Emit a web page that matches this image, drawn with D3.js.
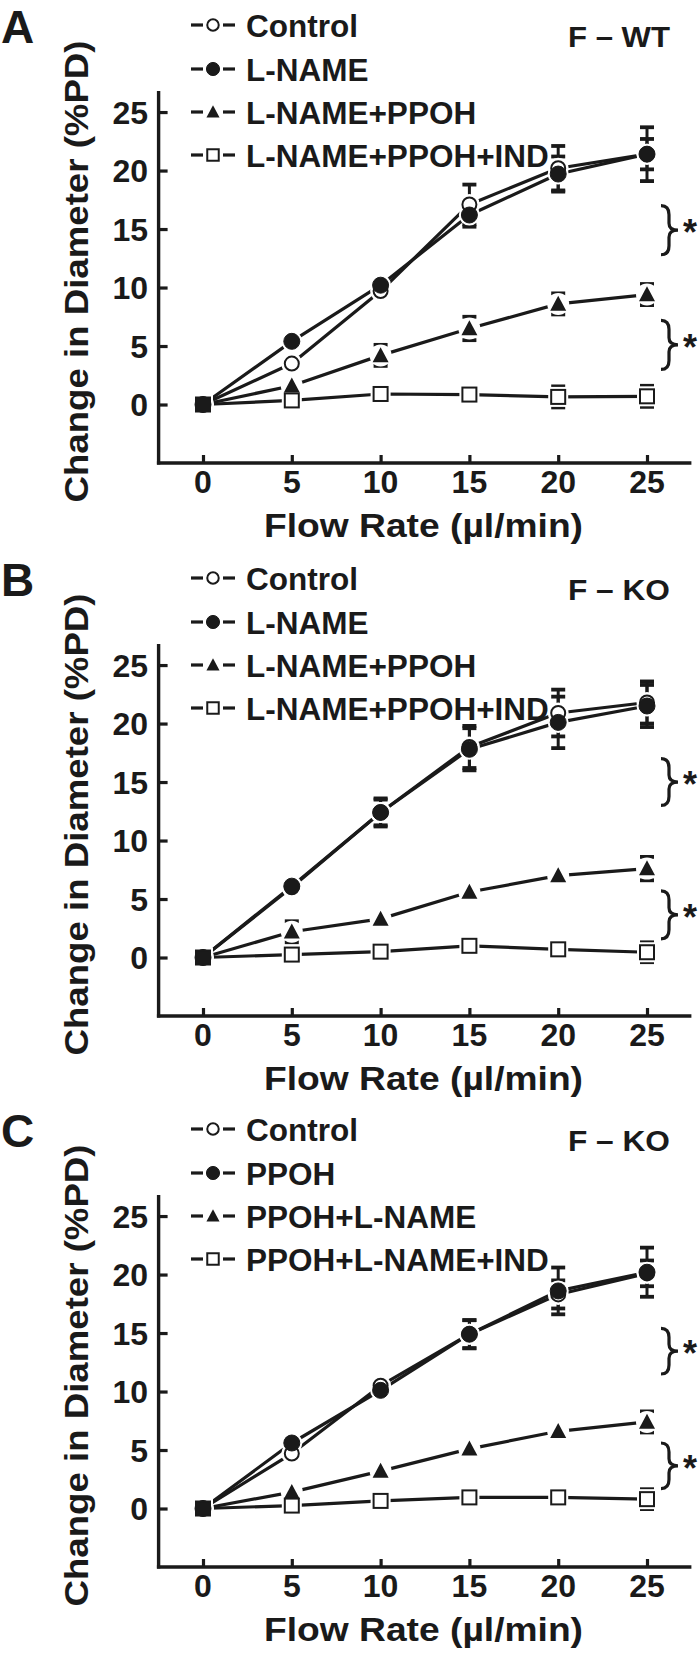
<!DOCTYPE html>
<html>
<head>
<meta charset="utf-8">
<script src="https://cdn.jsdelivr.net/npm/d3@7"></script>
<style>
html,body{margin:0;padding:0;background:#fff;}
svg{display:block;}
text{font-family:"Liberation Sans",Arial,Helvetica,sans-serif;font-weight:bold;fill:#1a1a1a;}
</style>
</head>
<body>
<svg id="chart" width="698" height="1657"></svg>
<script>
// ---------- DATA ----------
const flowRates = [0, 5, 10, 15, 20, 25];
const xTicks = [0, 5, 10, 15, 20, 25];
const yTicks = [0, 5, 10, 15, 20, 25];
const panelLabels = ["A", "B", "C"];
const panelTitles = ["F \u2013 WT", "F \u2013 KO", "F \u2013 KO"];
const legendAB = ["Control", "L-NAME", "L-NAME+PPOH", "L-NAME+PPOH+IND"];
const legendC = ["Control", "PPOH", "PPOH+L-NAME", "PPOH+L-NAME+IND"];
const xTitle = "Flow Rate (\u00b5l/min)";
const yTitle = "Change in Diameter (%PD)";

// Panel A (F-WT)
const A_control = [0, 3.5, 9.7, 17.1, 20.2, 21.4];
const A_lname   = [0, 5.4, 10.2, 16.2, 19.7, 21.4];
const A_lnPpoh  = [0, 1.6, 4.2, 6.5, 8.6, 9.4];
const A_lnPpohInd = [0, 0.35, 0.9, 0.85, 0.65, 0.7];
const A_controlErr = [0, 0, 0, 1.7, 1.9, 2.3];
const A_lnameErr   = [0, 0, 0, 1.0, 1.5, 1.3];
const A_lnPpohErr  = [0, 0, 0.9, 1.0, 0.9, 0.9];
const A_lnPpohIndErr = [0, 0, 0, 0, 0.9, 0.9];
const A_brackets = [[12.8, 17.0], [3.0, 7.2]];

// Panel B (F-KO)
const B_control = [0, 6.0, 12.4, 18.0, 20.9, 21.8];
const B_lname   = [0, 6.1, 12.4, 17.8, 20.1, 21.5];
const B_lnPpoh  = [0, 2.2, 3.3, 5.6, 7.0, 7.6];
const B_lnPpohInd = [0, 0.25, 0.5, 1.0, 0.7, 0.45];
const B_controlErr = [0, 0, 1.2, 1.8, 2.0, 1.8];
const B_lnameErr   = [0, 0, 1.1, 1.8, 2.2, 1.8];
const B_lnPpohErr  = [0, 0.9, 0, 0, 0, 1.0];
const B_lnPpohIndErr = [0, 0, 0, 0, 0, 0.85];
const B_brackets = [[13.0, 17.0], [1.6, 5.7]];

// Panel C (F-KO)
const C_control = [0, 4.7, 10.5, 14.9, 18.3, 20.1];
const C_ppoh    = [0, 5.6, 10.1, 14.9, 18.6, 20.2];
const C_ppohLn  = [0, 1.4, 3.2, 5.1, 6.6, 7.4];
const C_ppohLnInd = [0, 0.25, 0.65, 0.95, 0.95, 0.8];
const C_controlErr = [0, 0, 0, 1.2, 1.2, 1.1];
const C_ppohErr    = [0, 0, 0, 1.2, 2.0, 2.1];
const C_ppohLnErr  = [0, 0, 0, 0, 0, 0.9];
const C_ppohLnIndErr = [0, 0, 0, 0, 0, 0.85];
const C_brackets = [[11.5, 15.4], [1.7, 5.6]];

const markerTypes = ["openCircle", "filledCircle", "triangle", "openSquare"];

// ---------- BUILD ----------
const panels = [
  {label: panelLabels[0], title: panelTitles[0], legend: legendAB, dy: 0,
   values: [A_control, A_lname, A_lnPpoh, A_lnPpohInd],
   errs: [A_controlErr, A_lnameErr, A_lnPpohErr, A_lnPpohIndErr], brackets: A_brackets},
  {label: panelLabels[1], title: panelTitles[1], legend: legendAB, dy: 553,
   values: [B_control, B_lname, B_lnPpoh, B_lnPpohInd],
   errs: [B_controlErr, B_lnameErr, B_lnPpohErr, B_lnPpohIndErr], brackets: B_brackets},
  {label: panelLabels[2], title: panelTitles[2], legend: legendC, dy: 1104,
   values: [C_control, C_ppoh, C_ppohLn, C_ppohLnInd],
   errs: [C_controlErr, C_ppohErr, C_ppohLnErr, C_ppohLnIndErr], brackets: C_brackets}
];

const INK = "#1a1a1a";
const svg = d3.select("#chart");

const x = d3.scaleLinear().domain([-2.5, 27.5]).range([158.6, 691.4]);
const y = d3.scaleLinear().domain([-5, 26.8]).range([463, 91]);

function drawMarker(g, type, cx, cy, scale, isOrigin) {
  const s = scale;
  if (type === "openCircle") {
    g.append("circle").attr("cx", cx).attr("cy", cy).attr("r", 7 * s)
      .attr("fill", isOrigin ? INK : "#fff").attr("stroke", INK).attr("stroke-width", 2);
  } else if (type === "filledCircle") {
    g.append("circle").attr("cx", cx).attr("cy", cy).attr("r", 8 * s)
      .attr("fill", INK).attr("stroke", INK).attr("stroke-width", 1);
  } else if (type === "triangle") {
    const h = 15 * s, w = 16 * s;
    g.append("path")
      .attr("d", `M${cx},${cy - h * 0.55} L${cx + w / 2},${cy + h * 0.45} L${cx - w / 2},${cy + h * 0.45} Z`)
      .attr("fill", INK);
  } else {
    const a = 14 * s;
    g.append("rect").attr("x", cx - a / 2).attr("y", cy - a / 2).attr("width", a).attr("height", a)
      .attr("fill", isOrigin ? INK : "#fff").attr("stroke", INK).attr("stroke-width", 2);
  }
}
function drawHalo(g, type, cx, cy) {
  if (type === "openSquare") {
    g.append("rect").attr("x", cx - 10).attr("y", cy - 10).attr("width", 20).attr("height", 20).attr("fill", "#fff");
  } else if (type === "triangle") {
    g.append("circle").attr("cx", cx).attr("cy", cy).attr("r", 11).attr("fill", "#fff");
  } else {
    g.append("circle").attr("cx", cx).attr("cy", cy).attr("r", 10.5).attr("fill", "#fff");
  }
}

panels.forEach(p => {
  const g = svg.append("g").attr("transform", `translate(0,${p.dy})`);

  // Panel letter
  g.append("text").attr("x", 1).attr("y", 43).attr("font-size", 46).text(p.label);

  // Title right
  g.append("text").attr("x", 670).attr("y", 47).attr("text-anchor", "end")
    .attr("font-size", 29).attr("textLength", 102).attr("lengthAdjust", "spacingAndGlyphs").text(p.title);

  // Legend
  const legBase = [37, 81, 124, 167];
  p.legend.forEach((name, i) => {
    const cy = legBase[i] - 12;
    const lg = g.append("g");
    lg.append("line").attr("x1", 191).attr("x2", 203).attr("y1", cy).attr("y2", cy)
      .attr("stroke", INK).attr("stroke-width", 3.2);
    lg.append("line").attr("x1", 223).attr("x2", 235).attr("y1", cy).attr("y2", cy)
      .attr("stroke", INK).attr("stroke-width", 3.2);
    drawMarker(lg, markerTypes[i], 213, cy, 0.82, false);
    lg.append("text").attr("x", 246).attr("y", legBase[i]).attr("font-size", 31.5).text(name);
  });

  // Axes
  const yAxis = d3.axisRight(y).tickValues(yTicks).tickSize(9).tickFormat("");
  const yg = g.append("g").attr("transform", `translate(${x(-2.5)},0)`).call(yAxis);
  const xAxis = d3.axisTop(x).tickValues(xTicks).tickSize(8).tickFormat("");
  const xg = g.append("g").attr("transform", `translate(0,${y(-5)})`).call(xAxis);
  [yg, xg].forEach(ax => {
    ax.select(".domain").remove();
    ax.selectAll(".tick line").attr("stroke", INK).attr("stroke-width", 3.2);
  });
  g.append("line").attr("x1", x(-2.5)).attr("x2", x(-2.5)).attr("y1", y(26.8)).attr("y2", y(-5) + 1.6)
    .attr("stroke", INK).attr("stroke-width", 3.4);
  g.append("line").attr("x1", x(-2.5) - 1.7).attr("x2", x(27.5)).attr("y1", y(-5)).attr("y2", y(-5))
    .attr("stroke", INK).attr("stroke-width", 3.4);

  // Tick labels
  g.selectAll(".ylab").data(yTicks).enter().append("text")
    .attr("x", 148).attr("y", d => y(d) + 11.5).attr("text-anchor", "end").attr("font-size", 32).text(d => d);
  g.selectAll(".xlab").data(xTicks).enter().append("text")
    .attr("x", d => x(d)).attr("y", 493).attr("text-anchor", "middle").attr("font-size", 32).text(d => d);

  // Axis titles
  g.append("text").attr("x", 423.5).attr("y", 537).attr("text-anchor", "middle").attr("font-size", 32.5)
    .attr("textLength", 319).attr("lengthAdjust", "spacingAndGlyphs").text(xTitle);
  g.append("text").attr("transform", `translate(88,271.5) rotate(-90)`).attr("text-anchor", "middle")
    .attr("font-size", 32.5).attr("textLength", 462).attr("lengthAdjust", "spacingAndGlyphs").text(yTitle);

  // Series lines
  const line = d3.line().x((d, i) => x(flowRates[i])).y(d => y(d));
  p.values.forEach(vals => {
    g.append("path").attr("d", line(vals)).attr("fill", "none").attr("stroke", INK)
      .attr("stroke-width", 3.2).attr("stroke-linejoin", "round");
  });

  // Error bars
  p.values.forEach((vals, si) => {
    vals.forEach((v, i) => {
      const e = p.errs[si][i];
      if (!e) return;
      const cx = x(flowRates[i]);
      g.append("line").attr("x1", cx).attr("x2", cx).attr("y1", y(v + e)).attr("y2", y(v - e))
        .attr("stroke", INK).attr("stroke-width", 3);
      [v + e, v - e].forEach(cv => {
        g.append("line").attr("x1", cx - 7).attr("x2", cx + 7).attr("y1", y(cv)).attr("y2", y(cv))
          .attr("stroke", INK).attr("stroke-width", 3.8);
      });
    });
  });

  // Markers (halo then marker, series by series)
  p.values.forEach((vals, si) => {
    vals.forEach((v, i) => {
      drawHalo(g, markerTypes[si], x(flowRates[i]), y(v));
    });
  });
  p.values.forEach((vals, si) => {
    vals.forEach((v, i) => {
      drawMarker(g, markerTypes[si], x(flowRates[i]), y(v), 1, flowRates[i] === 0);
    });
  });

  // Significance brackets
  p.brackets.forEach(b => {
    const top = y(b[1]), bot = y(b[0]), mid = (top + bot) / 2;
    const x0 = 661, sp = 669, tip = 678;
    const d = `M${x0},${top} Q${sp},${top} ${sp},${top + 9} L${sp},${mid - 7} Q${sp},${mid} ${tip},${mid}` +
              ` Q${sp},${mid} ${sp},${mid + 7} L${sp},${bot - 9} Q${sp},${bot} ${x0},${bot}`;
    g.append("path").attr("d", d).attr("fill", "none").attr("stroke", INK).attr("stroke-width", 3.2);
    g.append("text").attr("x", 690).attr("y", mid + 15).attr("text-anchor", "middle")
      .attr("font-size", 36).text("*");
  });
});
</script>
</body>
</html>
